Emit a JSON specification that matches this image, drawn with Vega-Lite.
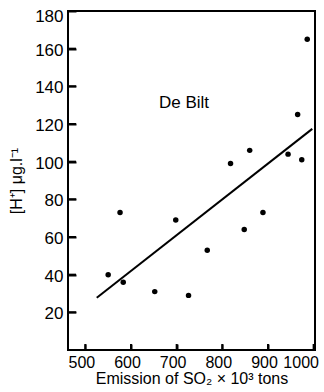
{
  "$schema": "https://vega.github.io/schema/vega-lite/v6.json",
  "autosize": {"type": "none"},
  "padding": {"left": 68, "top": 11, "right": 9, "bottom": 42},
  "width": 247,
  "height": 339,
  "config": {
    "font": "Liberation Sans",
    "view": {"stroke": "black", "strokeWidth": 2},
    "axis": {
      "domain": false,
      "grid": false,
      "ticks": true,
      "tickColor": "black",
      "tickWidth": 2,
      "labelColor": "black",
      "titleFontWeight": "normal",
      "titleColor": "black"
    }
  },
  "datasets": {
    "points": [
      {"so2": 550, "h": 40},
      {"so2": 576, "h": 73},
      {"so2": 583, "h": 36},
      {"so2": 652, "h": 31},
      {"so2": 698, "h": 69},
      {"so2": 726, "h": 29},
      {"so2": 767, "h": 53},
      {"so2": 818, "h": 99},
      {"so2": 848, "h": 64},
      {"so2": 860, "h": 106},
      {"so2": 889, "h": 73},
      {"so2": 944, "h": 104},
      {"so2": 965, "h": 125},
      {"so2": 974, "h": 101},
      {"so2": 986, "h": 165}
    ],
    "fit": [
      {"so2": 525, "h": 27.7},
      {"so2": 997, "h": 117.4}
    ],
    "label": [
      {"so2": 716, "h": 131, "text": "De Bilt"}
    ],
    "xticks": [
      {"so2": 500}, {"so2": 600}, {"so2": 700}, {"so2": 800}, {"so2": 900}, {"so2": 1000}
    ],
    "yticks": [
      {"h": 20}, {"h": 40}, {"h": 60}, {"h": 80}, {"h": 100}, {"h": 120}, {"h": 140}, {"h": 160}
    ]
  },
  "layer": [
    {
      "data": {"name": "fit"},
      "mark": {"type": "line", "color": "black", "strokeWidth": 2},
      "encoding": {
        "x": {"field": "so2", "type": "quantitative", "scale": {"domain": [462, 1003], "nice": false, "zero": false},
              "axis": {"values": [500, 600, 700, 800, 900, 1000], "format": "d", "title": "Emission of SO₂ × 10³ tons",
                       "offset": -6, "tickSize": 6,
                       "labelPadding": 4, "labelFontSize": 16, "titleFontSize": 16, "titlePadding": 0,
                       "labelOffset": {"condition": {"test": "datum.value == 1000", "value": -13}, "value": -4}}},
        "y": {"field": "h", "type": "quantitative", "scale": {"domain": [0, 180], "nice": false},
              "axis": {"values": [20, 40, 60, 80, 100, 120, 140, 160, 180], "format": "d", "title": "[H⁺]  μg.l⁻¹",
                       "offset": -8, "tickSize": 8,
                       "labelPadding": 5, "labelFontSize": 17, "titleFontSize": 16, "titlePadding": 10,
                       "labelOffset": {"condition": {"test": "datum.value == 180", "value": 5}, "value": 1.5}}}
      }
    },
    {
      "data": {"name": "xticks"},
      "mark": {"type": "tick", "orient": "vertical", "color": "black", "size": 12, "thickness": 2, "opacity": 1, "clip": true},
      "encoding": {
        "x": {"field": "so2", "type": "quantitative"},
        "y": {"datum": 0, "type": "quantitative"}
      }
    },
    {
      "data": {"name": "yticks"},
      "mark": {"type": "tick", "orient": "horizontal", "color": "black", "size": 16, "thickness": 2, "opacity": 1, "clip": true},
      "encoding": {
        "y": {"field": "h", "type": "quantitative"},
        "x": {"datum": 462, "type": "quantitative"}
      }
    },
    {
      "data": {"name": "points"},
      "mark": {"type": "circle", "color": "black", "opacity": 1, "size": 30},
      "encoding": {
        "x": {"field": "so2", "type": "quantitative"},
        "y": {"field": "h", "type": "quantitative"}
      }
    },
    {
      "data": {"name": "label"},
      "mark": {"type": "text", "fontSize": 17, "color": "black", "font": "Liberation Sans"},
      "encoding": {
        "x": {"field": "so2", "type": "quantitative"},
        "y": {"field": "h", "type": "quantitative"},
        "text": {"field": "text"}
      }
    }
  ]
}
